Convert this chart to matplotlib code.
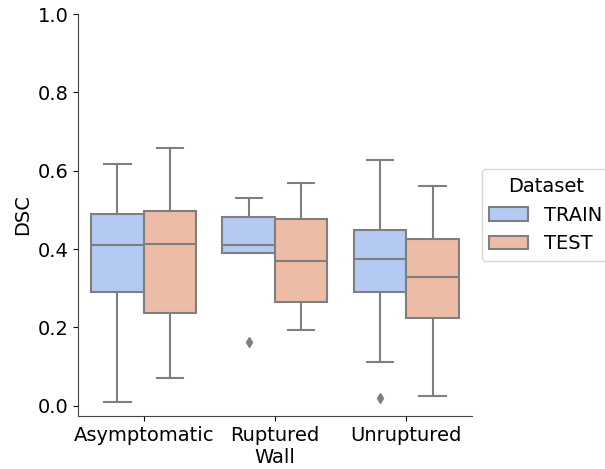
import matplotlib
matplotlib.use("Agg")
import matplotlib.pyplot as plt
import seaborn as sns
from matplotlib.patches import Patch

categories = ["Asymptomatic", "Ruptured\nWall", "Unruptured"]
hues = ["TRAIN", "TEST"]

# box statistics per hue, per category
train_whislo = [0.010, 0.391, 0.111]
train_q1     = [0.291, 0.391, 0.290]
train_med    = [0.411, 0.411, 0.374]
train_q3     = [0.490, 0.483, 0.449]
train_whishi = [0.617, 0.530, 0.627]
train_fliers = [[], [0.164], [0.021]]

test_whislo = [0.071, 0.194, 0.024]
test_q1     = [0.238, 0.266, 0.224]
test_med    = [0.414, 0.370, 0.328]
test_q3     = [0.497, 0.476, 0.426]
test_whishi = [0.658, 0.568, 0.560]
test_fliers = [[], [], []]

pal = [sns.desaturate(c, 0.75) for c in sns.color_palette("coolwarm", 2)]
gray = "#7f7f7f"

fig = plt.figure(figsize=(6.05, 4.69), dpi=100)
ax = fig.add_axes([0.129, 0.113, 0.651, 0.857])

def stats(wl, q1, md, q3, wh, fl):
    return [dict(whislo=a, q1=b, med=c, q3=d, whishi=e, fliers=f)
            for a, b, c, d, e, f in zip(wl, q1, md, q3, wh, fl)]

series = [
    stats(train_whislo, train_q1, train_med, train_q3, train_whishi, train_fliers),
    stats(test_whislo, test_q1, test_med, test_q3, test_whishi, test_fliers),
]
offsets = [-0.2, 0.2]
for s, off, col in zip(series, offsets, pal):
    pos = [i + off for i in range(len(categories))]
    ax.bxp(s, positions=pos, widths=0.4, patch_artist=True, showfliers=True,
           boxprops=dict(facecolor=col, edgecolor=gray, linewidth=1.5),
           medianprops=dict(color=gray, linewidth=1.5),
           whiskerprops=dict(color=gray, linewidth=1.5),
           capprops=dict(color=gray, linewidth=1.5),
           flierprops=dict(marker="d", markerfacecolor=gray, markeredgecolor=gray,
                           markersize=5, linestyle="none"))

ax.set_xlim(-0.5, 2.5)
ax.set_ylim(-0.026, 1.0)
ax.set_xticks(range(len(categories)))
ax.set_xticklabels(categories, fontsize=14)
ax.set_yticks([0.0, 0.2, 0.4, 0.6, 0.8, 1.0])
ax.set_yticklabels(["0.0", "0.2", "0.4", "0.6", "0.8", "1.0"], fontsize=14)
ax.set_ylabel("DSC", fontsize=14)
for sp in ["top", "right"]:
    ax.spines[sp].set_visible(False)
for sp in ["left", "bottom"]:
    ax.spines[sp].set_color("#444444")

handles = [Patch(facecolor=c, edgecolor=gray, linewidth=1.5, label=h) for c, h in zip(pal, hues)]
leg = ax.legend(handles=handles, title="Dataset", loc="center left",
                bbox_to_anchor=(1.0, 0.5), fontsize=14, title_fontsize=14)

fig.savefig("out.png", dpi=100)
